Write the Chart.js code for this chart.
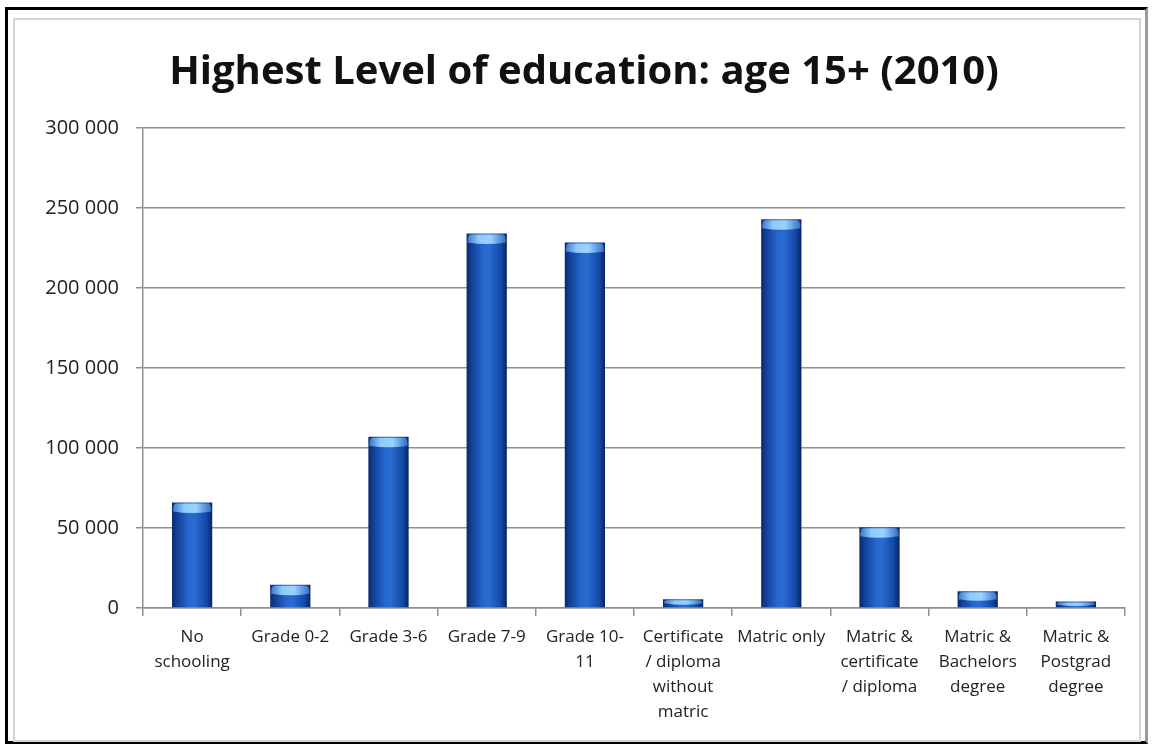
<!DOCTYPE html>
<html>
<head>
<meta charset="utf-8">
<script src="https://cdn.jsdelivr.net/npm/chart.js@4.4.1/dist/chart.umd.min.js"></script>
<style>
  html, body { margin: 0; padding: 0; background: #fff; }
  #wrap { position: relative; width: 1154px; height: 747px; overflow: hidden; background: #fff; }
  #outer { position: absolute; left: 5px; top: 7px; width: 1143px; height: 737px; border-left: 3px solid #000; border-top: 3px solid #000; border-bottom: 3px solid #000; border-right: 3px solid #9a9a9a; box-sizing: border-box; }
  #inner { position: absolute; left: 13px; top: 18px; width: 1128px; height: 724px; border: 2px solid #d4d4d4; box-sizing: border-box; }
  canvas { position: absolute; left: 0; top: 0; }
</style>
</head>
<body>
<div id="wrap">
  <div id="outer"></div>
  <div id="inner"></div>
  <canvas id="c" width="1154" height="747"></canvas>
</div>
<script>
const titleText = 'Highest Level of education: age 15+ (2010)';
const categories = [
  ['No', 'schooling'],
  ['Grade 0-2'],
  ['Grade 3-6'],
  ['Grade 7-9'],
  ['Grade 10-', '11'],
  ['Certificate', '/ diploma', 'without', 'matric'],
  ['Matric only'],
  ['Matric &', 'certificate', '/ diploma'],
  ['Matric &', 'Bachelors', 'degree'],
  ['Matric &', 'Postgrad', 'degree']
];
const population = [66000, 14500, 107000, 234000, 228500, 5500, 243000, 50500, 10500, 4000];
const yTicks = [0, 50000, 100000, 150000, 200000, 250000, 300000];

const barPct = 0.41;

function barGradient(ctx) {
  const chart = ctx.chart;
  const xs = chart.scales.x;
  if (!xs || !chart.chartArea) return '#1a55b8';
  const cx = xs.getPixelForValue(ctx.dataIndex);
  const w = (chart.chartArea.right - chart.chartArea.left) / categories.length * barPct;
  const g = chart.ctx.createLinearGradient(cx - w / 2, 0, cx + w / 2, 0);
  g.addColorStop(0, '#0a2a6a');
  g.addColorStop(0.12, '#123f96');
  g.addColorStop(0.4, '#2566cc');
  g.addColorStop(0.55, '#2a6cd2');
  g.addColorStop(0.85, '#134aa8');
  g.addColorStop(1, '#08245e');
  return g;
}

const capPlugin = {
  id: 'cap',
  afterDatasetsDraw(chart) {
    const meta = chart.getDatasetMeta(0);
    const c = chart.ctx;
    meta.data.forEach((bar) => {
      const left = bar.x - bar.width / 2;
      const capH = Math.min(9, Math.max(3, (bar.base - bar.y) * 0.5));
      const g = c.createLinearGradient(left, 0, left + bar.width, 0);
      g.addColorStop(0, 'rgba(60,120,210,0.9)');
      g.addColorStop(0.3, 'rgba(150,210,252,0.95)');
      g.addColorStop(0.6, 'rgba(160,215,255,0.95)');
      g.addColorStop(1, 'rgba(50,110,200,0.9)');
      c.save();
      c.fillStyle = g;
      c.beginPath();
      c.moveTo(left + 4, bar.y + 1);
      c.lineTo(left + bar.width - 4, bar.y + 1);
      c.quadraticCurveTo(left + bar.width - 1, bar.y + 1, left + bar.width - 1, bar.y + capH);
      c.quadraticCurveTo(bar.x, bar.y + capH + 3, left + 1, bar.y + capH);
      c.quadraticCurveTo(left + 1, bar.y + 1, left + 4, bar.y + 1);
      c.closePath();
      c.fill();
      c.restore();
    });
  }
};

Chart.defaults.font.family = '"Open Sans", Lato, "DejaVu Sans", sans-serif';

new Chart(document.getElementById('c'), {
  type: 'bar',
  data: {
    labels: categories,
    datasets: [{
      data: population,
      backgroundColor: barGradient,
      borderWidth: 0,
      barPercentage: barPct,
      categoryPercentage: 1.0
    }]
  },
  options: {
    responsive: false,
    animation: false,
    devicePixelRatio: 1,
    layout: { padding: { left: 43, right: 29, top: 49, bottom: 20 } },
    plugins: {
      legend: { display: false },
      tooltip: { enabled: false },
      title: {
        display: true,
        text: titleText,
        color: '#111',
        font: { size: 40, weight: 'bold' },
        padding: { top: 0, bottom: 31 }
      }
    },
    scales: {
      x: {
        offset: true,
        border: { display: true, color: '#909090', width: 1.5 },
        grid: { display: true, offset: true, drawOnChartArea: false, drawTicks: true, tickLength: 8, color: '#909090', lineWidth: 1.5 },
        ticks: {
          color: '#222',
          font: { size: 17, lineHeight: '25px' },
          padding: 9,
          maxRotation: 0,
          autoSkip: false
        },
        afterFit(scale) { scale.height = 119; }
      },
      y: {
        min: 0,
        max: 300000,
        border: { display: true, color: '#909090', width: 1.5 },
        grid: { color: '#909090', lineWidth: 1.5, tickLength: 7, drawTicks: true },
        afterBuildTicks(scale) { scale.ticks = yTicks.map(v => ({ value: v })); },
        ticks: {
          color: '#222',
          font: { size: 20 },
          padding: 17,
          callback(v) { return v === 0 ? '0' : String(v).replace(/\B(?=(\d{3})+(?!\d))/g, ' '); }
        },
        afterFit(scale) { scale.width = 100; }
      }
    }
  },
  plugins: [capPlugin]
});
</script>
</body>
</html>
